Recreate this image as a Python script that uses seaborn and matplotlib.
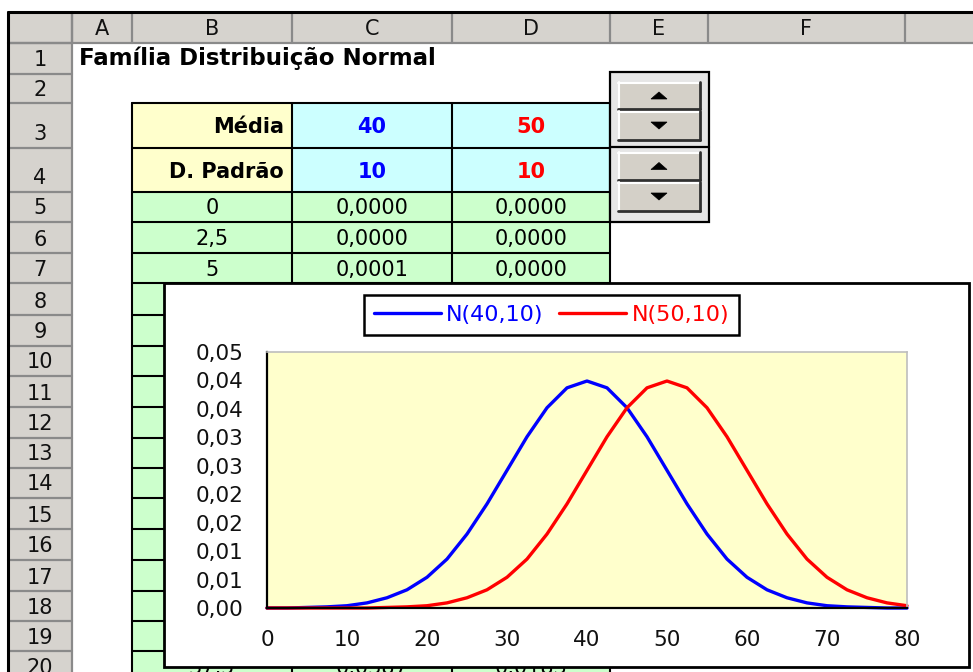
import matplotlib
matplotlib.use("Agg")
import matplotlib.pyplot as plt
import pandas as pd
import seaborn as sns
from matplotlib.patches import Rectangle, Polygon
from matplotlib.ticker import FixedLocator, FixedFormatter

# ---------------- data ----------------
title_text = "Família Distribuição Normal"
series_labels = ["N(40,10)", "N(50,10)"]
means = [40, 50]
std_devs = [10, 10]
x_values = [0, 2.5, 5, 7.5, 10, 12.5, 15, 17.5, 20, 22.5, 25, 27.5, 30, 32.5, 35, 37.5,
            40, 42.5, 45, 47.5, 50, 52.5, 55, 57.5, 60, 62.5, 65, 67.5, 70, 72.5, 75, 77.5, 80]
pdf_40_10 = [0.0000, 0.0000, 0.0001, 0.0002, 0.0004, 0.0009, 0.0018, 0.0032, 0.0054, 0.0086,
             0.0130, 0.0183, 0.0242, 0.0301, 0.0352, 0.0387, 0.0399, 0.0387, 0.0352, 0.0301,
             0.0242, 0.0183, 0.0130, 0.0086, 0.0054, 0.0032, 0.0018, 0.0009, 0.0004, 0.0002,
             0.0001, 0.0000, 0.0000]
pdf_50_10 = [0.0000, 0.0000, 0.0000, 0.0000, 0.0000, 0.0000, 0.0001, 0.0002, 0.0004, 0.0009,
             0.0018, 0.0032, 0.0054, 0.0086, 0.0130, 0.0183, 0.0242, 0.0301, 0.0352, 0.0387,
             0.0399, 0.0387, 0.0352, 0.0301, 0.0242, 0.0183, 0.0130, 0.0086, 0.0054, 0.0032,
             0.0018, 0.0009, 0.0004]
x_ticks = [0, 10, 20, 30, 40, 50, 60, 70, 80]
y_ticks = [0.000, 0.005, 0.010, 0.015, 0.020, 0.025, 0.030, 0.035, 0.040, 0.045]
y_tick_labels = ["0,00", "0,01", "0,01", "0,02", "0,02", "0,03", "0,03", "0,04", "0,04", "0,05"]
column_letters = ["A", "B", "C", "D", "E", "F", ""]
header_labels = ["Média", "D. Padrão"]

# ---------------- style ----------------
sns.set_style("white")
plt.rcParams["font.family"] = ["DejaVu Sans"]
plt.rcParams["text.color"] = "black"
FS = 15
BLUE, RED = "#0000FF", "#FF0000"
HDR = "#D6D3CE"
YEL, CYAN, GREEN = "#FFFFCC", "#CCFFFF", "#CCFFCC"

W, H = 973, 672
fig = plt.figure(figsize=(W / 100, H / 100), dpi=100)
bg = fig.add_axes([0, 0, 1, 1])
bg.set_xlim(0, W)
bg.set_ylim(H, 0)
bg.axis("off")
bg.set_zorder(0)

col_bounds = [8, 72, 132, 292, 452, 610, 708, 905, 990]
row_bounds = [43, 74, 103, 148, 192, 222, 253, 283, 315, 346, 376, 407, 438, 468, 498,
              529, 560, 591, 621, 651, 682]

# headers
bg.add_patch(Rectangle((8, 12), W, 31, facecolor=HDR, edgecolor="none", zorder=1))
bg.add_patch(Rectangle((8, 43), 64, H, facecolor=HDR, edgecolor="none", zorder=1))
for xb in col_bounds[1:-1]:
    bg.plot([xb, xb], [12, 43], color="#8A8A8A", lw=1.6, zorder=2)
for yb in row_bounds:
    bg.plot([8, 72], [yb, yb], color="#8A8A8A", lw=1.6, zorder=2)
bg.plot([8, W], [43, 43], color="#8A8A8A", lw=1.6, zorder=2)
bg.plot([72, 72], [12, H], color="#8A8A8A", lw=1.6, zorder=2)
bg.plot([8, W], [12, 12], color="black", lw=2.2, zorder=3)
bg.plot([8, 8], [12, H], color="black", lw=2.2, zorder=3)
for i, letter in enumerate(column_letters):
    cx = (col_bounds[i + 1] + col_bounds[i + 2]) / 2
    bg.text(cx, 35, letter, ha="center", va="baseline", fontsize=FS, color="#111111",
            zorder=3)
for r in range(len(row_bounds) - 1):
    bg.text(40, row_bounds[r + 1] - 7.5, str(r + 1), ha="center", va="baseline",
            fontsize=FS, color="#111111", zorder=3)

# title
bg.text(79, 65, title_text, ha="left", va="baseline", fontsize=16.5,
        fontweight="bold", zorder=3)

# table fills
bg.add_patch(Rectangle((132, 103), 160, 89, facecolor=YEL, edgecolor="none", zorder=1))
bg.add_patch(Rectangle((292, 103), 318, 89, facecolor=CYAN, edgecolor="none", zorder=1))
bg.add_patch(Rectangle((132, 192), 478, 490, facecolor=GREEN, edgecolor="none", zorder=1))
for yb in row_bounds[2:]:
    bg.plot([132, 610], [yb, yb], color="black", lw=1.5, zorder=2)
for xb in [132, 292, 452, 610]:
    bg.plot([xb, xb], [103, 682], color="black", lw=1.5, zorder=2)


def base(r):
    return (row_bounds[r - 1] + row_bounds[r]) / 2 + 7.5


bg.text(284, base(3), header_labels[0], ha="right", va="baseline", fontsize=FS,
        fontweight="bold", zorder=3)
bg.text(284, base(4), header_labels[1], ha="right", va="baseline", fontsize=FS,
        fontweight="bold", zorder=3)
for val, cx, colr, r in [(means[0], 372, BLUE, 3), (means[1], 531, RED, 3),
                         (std_devs[0], 372, BLUE, 4), (std_devs[1], 531, RED, 4)]:
    bg.text(cx, base(r), str(val), ha="center", va="baseline", fontsize=FS,
            fontweight="bold", color=colr, zorder=3)
# rows 5-7 visible above the chart, row 20 peeks out below it
for i in [0, 1, 2, 15]:
    r = 5 + i
    bg.text(212, base(r), f"{x_values[i]:g}".replace(".", ","), ha="center",
            va="baseline", fontsize=FS, zorder=3)
    bg.text(372, base(r), f"{pdf_40_10[i]:.4f}".replace(".", ","), ha="center",
            va="baseline", fontsize=FS, zorder=3)
    bg.text(531, base(r), f"{pdf_50_10[i]:.4f}".replace(".", ","), ha="center",
            va="baseline", fontsize=FS, zorder=3)

# spinner controls
bg.add_patch(Rectangle((610, 72), 99, 150, facecolor="#E6E6E6", edgecolor="black",
                       lw=1.6, zorder=4))
bg.plot([610, 709], [147, 147], color="black", lw=1.6, zorder=5)
for (top, bot, up) in [(82, 109, True), (111, 140, False), (152, 180, True), (182, 211, False)]:
    bg.add_patch(Rectangle((618, top), 82, bot - top, facecolor="#D4D0C8",
                           edgecolor="none", zorder=5))
    bg.plot([618, 699], [top + 1, top + 1], color="white", lw=1.5, zorder=6)
    bg.plot([619, 619], [top, bot], color="white", lw=1.5, zorder=6)
    bg.plot([618, 700], [bot, bot], color="#303030", lw=2, zorder=6)
    bg.plot([700, 700], [top, bot], color="#303030", lw=2, zorder=6)
    cy = (top + bot) / 2
    if up:
        tri = [(651, cy + 3.5), (667, cy + 3.5), (659, cy - 3.5)]
    else:
        tri = [(651, cy - 3.5), (667, cy - 3.5), (659, cy + 3.5)]
    bg.add_patch(Polygon(tri, closed=True, facecolor="black", edgecolor="black",
                         lw=0.5, zorder=7))

# chart box
bg.add_patch(Rectangle((164, 283), 805, 384, facecolor="white", edgecolor="black",
                       lw=2, zorder=20))

# ---------------- chart ----------------
ax = fig.add_axes([267 / W, 1 - 608 / H, 640 / W, 256 / H])
ax.set_zorder(1)
ax.set_facecolor(YEL)

df = pd.DataFrame({
    "x": x_values + x_values,
    "densidade": pdf_40_10 + pdf_50_10,
    "serie": [series_labels[0]] * len(x_values) + [series_labels[1]] * len(x_values),
})
sns.lineplot(data=df, x="x", y="densidade", hue="serie", hue_order=series_labels,
             palette=[BLUE, RED], estimator=None, errorbar=None, sort=False,
             linewidth=2.4, ax=ax, legend=True)
for ln in ax.get_lines():
    ln.set_clip_on(False)
    ln.set_solid_joinstyle("round")

handles, labels = ax.get_legend_handles_labels()
if ax.get_legend() is not None:
    ax.get_legend().remove()

ax.set_xlim(0, 80)
ax.set_ylim(0, 0.045)
ax.xaxis.set_major_locator(FixedLocator(x_ticks))
ax.yaxis.set_major_locator(FixedLocator(y_ticks))
ax.yaxis.set_major_formatter(FixedFormatter(y_tick_labels))
ax.set_xlabel("")
ax.set_ylabel("")
for s in ["left", "bottom"]:
    ax.spines[s].set_color("black")
    ax.spines[s].set_linewidth(1.6)
for s in ["top", "right"]:
    ax.spines[s].set_color("#BDBDBD")
    ax.spines[s].set_linewidth(1.2)
ax.tick_params(axis="both", direction="inout", length=10, width=1.5, color="black",
               labelsize=15.5, labelcolor="#111111")
ax.tick_params(axis="y", pad=12)
ax.tick_params(axis="x", pad=11)
ax.grid(False)

leg = fig.legend(handles, labels, loc="center", bbox_to_anchor=(551.5 / W, 1 - 315 / H),
                 bbox_transform=fig.transFigure, ncol=2, frameon=True, fancybox=False,
                 edgecolor="black", framealpha=1, fontsize=16, handlelength=3.0,
                 handletextpad=0.25, columnspacing=0.7, borderpad=0.45,
                 labelcolor="linecolor")
leg.get_frame().set_linewidth(1.8)
leg.set_zorder(30)

fig.savefig("out.png", dpi=100)
